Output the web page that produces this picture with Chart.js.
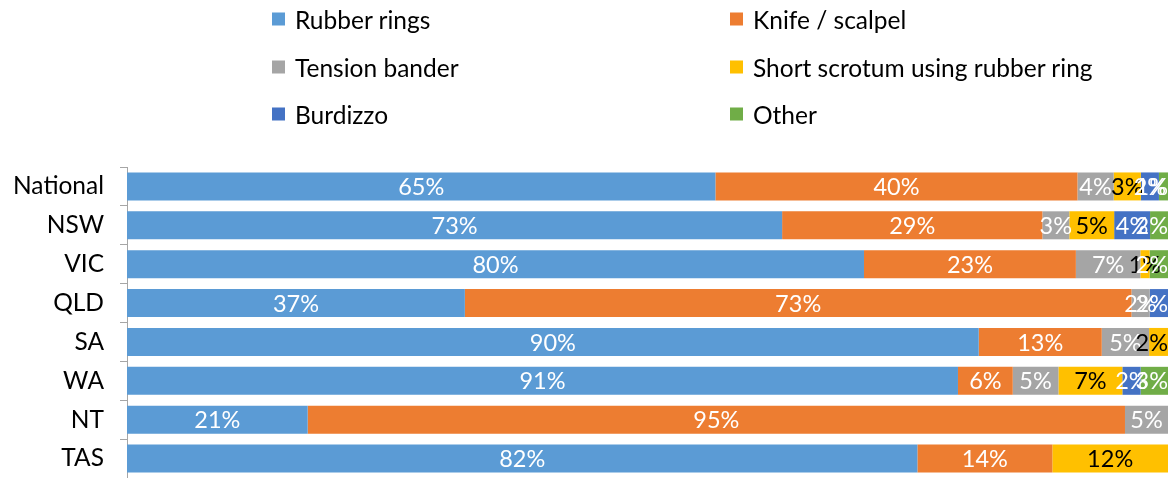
<!DOCTYPE html>
<html>
<head>
<meta charset="utf-8">
<script src="https://cdn.jsdelivr.net/npm/chart.js@4/dist/chart.umd.min.js"></script>
<style>
  html, body { margin: 0; padding: 0; background: #fff; }
  #wrap { position: relative; width: 1172px; height: 478px; overflow: hidden; }
  #chart { display: block; }
  #legend { position: absolute; left: 0; top: 0; width: 1172px; height: 140px; font-family: Lato, sans-serif; font-size: 24.5px; color: #000; }
  .item { position: absolute; display: flex; align-items: center; white-space: nowrap; transform: translateY(-50%); }
  .box { width: 13px; height: 13px; margin-right: 10px; }
</style>
</head>
<body>
<div id="wrap">
  <canvas id="chart" width="1172" height="478"></canvas>
  <div id="legend"></div>
</div>
<script>
const regions = ['National', 'NSW', 'VIC', 'QLD', 'SA', 'WA', 'NT', 'TAS'];

// % of respondents using each method (multiple answers allowed)
const rubberRings   = [65, 73, 80, 37, 90, 91, 21, 82];
const knifeScalpel  = [40, 29, 23, 73, 13, 6, 95, 14];
const tensionBander = [4, 3, 7, 2, 5, 5, 5, 0];
const shortScrotum  = [3, 5, 1, 0, 2, 7, 0, 12];
const burdizzo      = [2, 4, 0, 2, 0, 2, 0, 0];
const other         = [1, 2, 2, 0, 0, 3, 0, 0];

const seriesNames = ['Rubber rings', 'Knife / scalpel', 'Tension bander', 'Short scrotum using rubber ring', 'Burdizzo', 'Other'];
const seriesValues = [rubberRings, knifeScalpel, tensionBander, shortScrotum, burdizzo, other];

const seriesColors = ['#5b9bd5', '#ed7d31', '#a5a5a5', '#ffc000', '#4472c4', '#70ad47'];
const textColors = ['#fff', '#fff', '#fff', '#000', '#fff', '#fff'];

// each bar fills the full width, split in proportion to the answers
const rowTotals = regions.map((r, j) => seriesValues.reduce((s, arr) => s + arr[j], 0));

const datasets = seriesNames.map((name, i) => ({
    label: name,
    data: seriesValues[i].map((v, j) => v / rowTotals[j] * 100),
    backgroundColor: seriesColors[i],
    borderWidth: 0,
    barPercentage: 0.72,
    categoryPercentage: 1
}));

// value labels in the middle of each segment, kept inside the plot on the right
const barLabels = {
    id: 'barLabels',
    afterDatasetsDraw(chart) {
        const ctx = chart.ctx;
        const area = chart.chartArea;
        ctx.save();
        ctx.font = '23.5px Lato';
        ctx.textAlign = 'center';
        ctx.textBaseline = 'middle';
        chart.data.datasets.forEach((ds, i) => {
            chart.getDatasetMeta(i).data.forEach((bar, j) => {
                const v = seriesValues[i][j];
                if (!v) return;
                const text = v + '%';
                const w = ctx.measureText(text).width;
                const cx = Math.min((bar.x + bar.base) / 2, area.right - w / 2);
                ctx.fillStyle = textColors[i];
                ctx.fillText(text, cx, bar.y + 1);
            });
        });
        ctx.restore();
    }
};

// two-column legend above the plot
const legendEl = document.getElementById('legend');
const legendCols = [272, 730];
const legendRows = [19, 67, 114];
seriesNames.forEach((name, i) => {
    const item = document.createElement('div');
    item.className = 'item';
    item.style.left = legendCols[i % 2] + 'px';
    item.style.top = legendRows[Math.floor(i / 2)] + 'px';
    item.innerHTML = '<span class="box" style="background:' + seriesColors[i] + '"></span><span>' + name + '</span>';
    legendEl.appendChild(item);
});

function draw() {
    new Chart(document.getElementById('chart').getContext('2d'), {
        type: 'bar',
        data: { labels: regions, datasets: datasets },
        options: {
            indexAxis: 'y',
            responsive: false,
            animation: false,
            layout: { padding: { top: 167, right: 4, bottom: 0, left: 0 }, autoPadding: false },
            scales: {
                x: { stacked: true, min: 0, max: 100, display: false },
                y: {
                    stacked: true,
                    grid: { display: true, drawOnChartArea: false, drawTicks: true, tickLength: 7, color: '#a6a6a6', offset: true },
                    border: { color: '#a6a6a6' },
                    ticks: { color: '#000', font: { family: 'Lato', size: 24.5 }, padding: 16 },
                    afterFit: s => { s.width = 127; s.paddingTop = 0; s.paddingBottom = 0; }
                }
            },
            plugins: { legend: { display: false }, tooltip: { enabled: false } }
        },
        plugins: [barLabels]
    });
}

document.fonts.load('24px Lato').then(draw, draw);
</script>
</body>
</html>
